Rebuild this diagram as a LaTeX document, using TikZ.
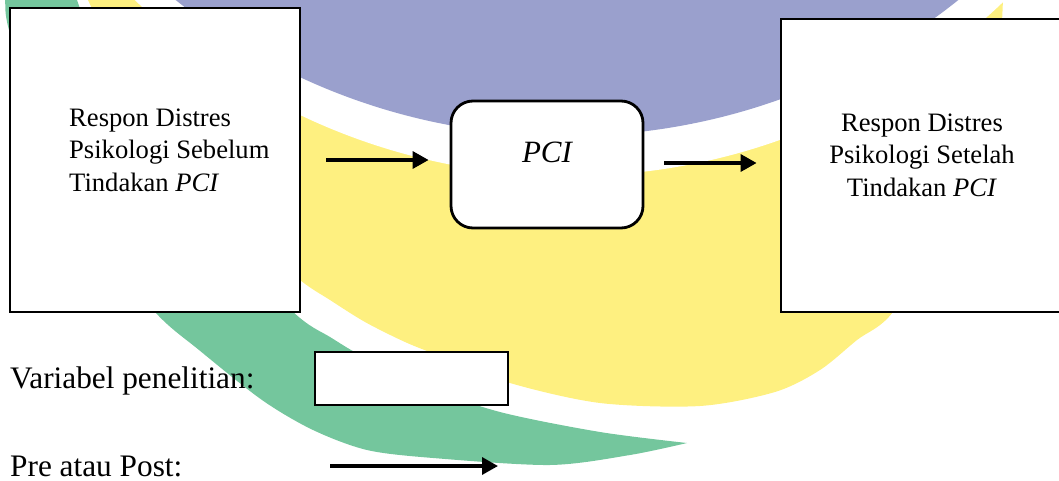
\documentclass[tikz,border=0pt]{standalone}
\usepackage{fontspec}
\setmainfont{Liberation Serif}
\usetikzlibrary{arrows.meta}
\definecolor{wmblue}{RGB}{154,160,205}
\definecolor{wmyellow}{RGB}{254,240,128}
\definecolor{wmgreen}{RGB}{116,198,157}
\begin{document}
\begin{tikzpicture}[x=1pt,y=-1pt,
  boxstyle/.style={draw=black, line width=2.8pt, fill=white, inner sep=0pt},
  arr/.style={line width=3.4pt, -{Triangle[length=16pt,width=17pt]}},
  boxtext/.style={inner sep=0pt, font=\fontsize{26.6}{32.5}\selectfont},
  labeltext/.style={inner sep=0pt, anchor=base west, font=\fontsize{31.3}{36}\selectfont}]
\useasboundingbox (0,0) rectangle (1059,481);
\clip (0,0) rectangle (1059,481);
% watermark
\fill[wmyellow] (85,-40) -- plot[smooth, tension=0.5] coordinates {(85,-20) (88,0) (130,80) (190,170) (250,235) (300,280) (330,300) (365,322) (405,342) (440,356) (510,383) (600,403) (700,406) (775,392) (820,370) (857,340) (893,312) (950,220) (985,120) (1000,40) (1003,0) (1004,-20)} -- (1004,-40) -- cycle;
\fill[white] (570,-450) circle[radius=626pt];
\fill[wmblue] (567,-459) ellipse[x radius=615pt, y radius=595pt];
\fill[wmgreen] plot[smooth, tension=0.5] coordinates {(3,-30) (5,0) (9,30) (40,130) (90,230) (155,312) (199,350) (262,400) (313,430) (367,450) (433,458) (550,465) (630,455) (687,443)} -- plot[smooth, tension=0.5] coordinates {(687,443) (600,432) (500,412) (420,385) (360,355) (330,337) (300,318) (240,262) (178,200) (116,100) (77,0) (70,-30)} -- cycle;
% boxes
\node[boxstyle, minimum width=290pt, minimum height=304pt] (lbox) at (155,160) {};
\node[boxstyle, minimum width=284pt, minimum height=293pt] (rbox) at (923,165.5) {};
\node[boxstyle, rounded corners=22pt, minimum width=192pt, minimum height=127pt] (pci) at (547,164.5) {};
\node[boxstyle, minimum width=193pt, minimum height=53pt] (vbox) at (411.5,378.5) {};
% texts
\node[boxtext, anchor=north west, align=left] (ltext) at (69,108.5) {Respon Distres\\Psikologi Sebelum\\Tindakan \textit{PCI}};
\node[boxtext, anchor=north, align=center] (rtext) at (922,113.5) {Respon Distres\\Psikologi Setelah\\Tindakan \textit{PCI}};
\node[inner sep=0pt, anchor=base, font=\fontsize{31}{36}\selectfont\itshape] (pcitext) at (547,163) {PCI};
\node[labeltext] (lab1) at (10,388) {Variabel penelitian:};
\node[labeltext] (lab2) at (10,476) {Pre atau Post:};
% arrows
\draw[arr, shorten <=25pt, shorten >=21pt] (lbox.east) -- (lbox.east -| pci.west);
\draw[arr, shorten <=20pt, shorten >=23pt] ([yshift=1.5pt]pci.east) -- ([yshift=1.5pt]pci.east -| rbox.west);
\coordinate (p1) at (330,466);
\coordinate (p2) at (498,466);
\draw[arr] (p1) -- (p2);
\end{tikzpicture}
\end{document}
